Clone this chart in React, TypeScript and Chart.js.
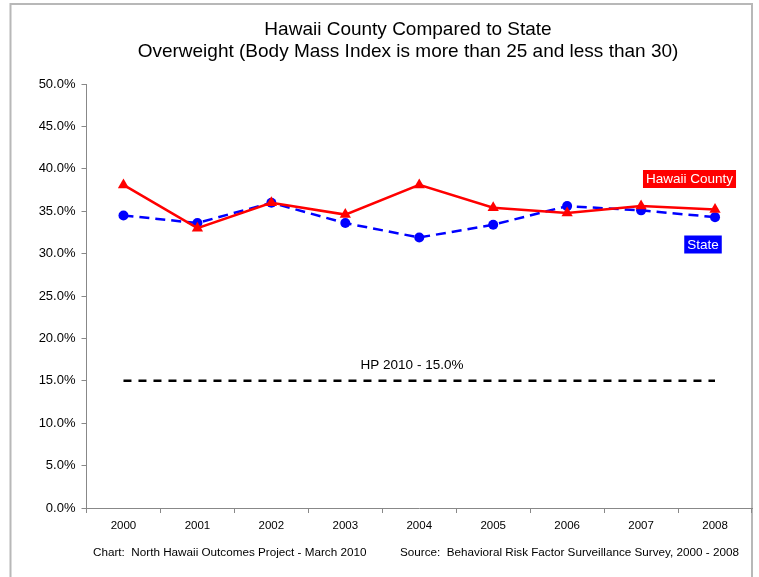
import React, { useEffect, useRef } from "react";
import { Chart, registerables } from "chart.js";

Chart.register(...registerables);

const years = ["2000", "2001", "2002", "2003", "2004", "2005", "2006", "2007", "2008"];
const hawaiiCounty = [38.1, 33.0, 36.0, 34.6, 38.1, 35.4, 34.8, 35.6, 35.2];
const stateValues = [34.5, 33.6, 36.0, 33.6, 31.9, 33.4, 35.6, 35.1, 34.3];
const hp2010 = [15, 15, 15, 15, 15, 15, 15, 15, 15];

const titleLines = [
  "Hawaii County Compared to State",
  "Overweight (Body Mass Index is more than 25 and less than 30)",
];
const footerLeft = "Chart:  North Hawaii Outcomes Project - March 2010";
const footerRight = "Source:  Behavioral Risk Factor Surveillance Survey, 2000 - 2008";
const hpLabel = "HP 2010 - 15.0%";

const FONT = "'Liberation Sans', Arial, sans-serif";

const decorPlugin = {
  id: "decor",
  beforeDraw(chart: any) {
    const ctx = chart.ctx;
    ctx.save();
    ctx.fillStyle = "#ffffff";
    ctx.fillRect(0, 0, chart.width, chart.height);
    ctx.strokeStyle = "#b8b8b8";
    ctx.lineWidth = 2;
    ctx.strokeRect(10.5, 4, 741.5, 600);
    ctx.restore();
  },
  afterDraw(chart: any) {
    const ctx = chart.ctx;
    const y = chart.scales.y;
    ctx.save();
    ctx.fillStyle = "#000";
    ctx.textAlign = "center";
    ctx.textBaseline = "middle";
    ctx.font = `19px ${FONT}`;
    ctx.fillText(titleLines[0], 408, 30);
    ctx.fillText(titleLines[1], 408, 52);

    ctx.font = `11.7px ${FONT}`;
    ctx.textAlign = "left";
    ctx.fillText(footerLeft, 93, 553);
    ctx.fillText(footerRight, 400, 553);

    // HP label
    ctx.font = `13.5px ${FONT}`;
    ctx.textAlign = "center";
    ctx.fillText(hpLabel, 412, y.getPixelForValue(hp2010[0]) - 16);

    // series labels
    const drawTag = (text: string, bg: string, cx: number, cy: number) => {
      ctx.font = `13.5px ${FONT}`;
      const w = ctx.measureText(text).width + 6;
      ctx.fillStyle = bg;
      ctx.fillRect(cx - w / 2, cy - 9, w, 18);
      ctx.fillStyle = "#fff";
      ctx.textAlign = "center";
      ctx.fillText(text, cx, cy + 0.5);
    };
    drawTag("Hawaii County", "#ff0000", 689.5, 179);
    drawTag("State", "#0000ff", 703, 244.5);
    ctx.restore();
  },
};

export default function App() {
  const ref = useRef<HTMLCanvasElement>(null);
  useEffect(() => {
    const chart = new Chart(ref.current!, {
      type: "line",
      data: {
        labels: years,
        datasets: [
          {
            label: "HP 2010",
            data: hp2010,
            borderColor: "#000",
            borderWidth: 2.5,
            borderDash: [8, 7],
            pointRadius: 0,
            fill: false,
            order: 3,
          },
          {
            label: "State",
            data: stateValues,
            borderColor: "#0000ff",
            backgroundColor: "#0000ff",
            borderWidth: 2.5,
            borderDash: [10, 6],
            pointStyle: "circle",
            pointRadius: 5,
            pointBorderWidth: 0,
            fill: false,
            order: 2,
          },
          {
            label: "Hawaii County",
            data: hawaiiCounty,
            borderColor: "#ff0000",
            backgroundColor: "#ff0000",
            borderWidth: 2.5,
            pointStyle: "triangle",
            pointRadius: 6.5,
            pointBorderWidth: 0,
            fill: false,
            order: 1,
          },
        ],
      },
      options: {
        animation: false,
        responsive: false,
        layout: { padding: { left: 0, right: 7, top: 84, bottom: 0 } },
        plugins: {
          legend: { display: false },
          tooltip: { enabled: false },
          title: { display: false },
        },
        scales: {
          x: {
            offset: true,
            grid: {
              offset: true,
              drawOnChartArea: false,
              drawTicks: true,
              tickLength: 5,
              color: "#888",
            },
            border: { display: true, color: "#888", width: 1 },
            ticks: {
              color: "#000",
              font: { family: FONT, size: 11.5 },
              padding: 6,
              maxRotation: 0,
            },
            afterFit: (s: any) => {
              s.height = 69;
            },
          },
          y: {
            min: 0,
            max: 50,
            grid: {
              drawOnChartArea: false,
              drawTicks: true,
              tickLength: 5,
              color: "#888",
            },
            border: { display: true, color: "#888", width: 1 },
            ticks: {
              stepSize: 5,
              color: "#000",
              font: { family: FONT, size: 13 },
              padding: 6,
              callback: (v: any) => Number(v).toFixed(1) + "%",
            },
            afterFit: (s: any) => {
              s.width = 86.5;
            },
          },
        },
      },
      plugins: [decorPlugin],
    });
    return () => chart.destroy();
  }, []);
  return (
    <div style={{ position: "fixed", left: 0, top: 0, width: 759, height: 577 }}>
      <canvas ref={ref} width={759} height={577} style={{ width: 759, height: 577 }} />
    </div>
  );
}
